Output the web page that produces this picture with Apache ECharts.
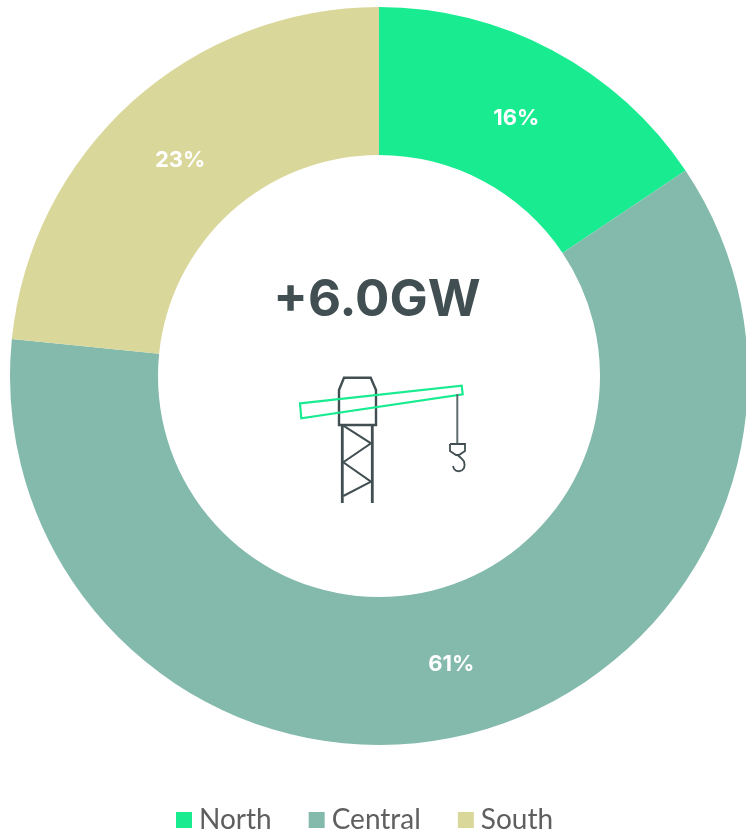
<!DOCTYPE html>
<html lang="en">
<head>
    <meta charset="UTF-8">
    <title>Capacity by region</title>
    <style>
        html, body { margin: 0; padding: 0; background: #fff; overflow: hidden; }
    </style>
</head>
<body>
<div id="container" style="width: 746px;height:833px;"></div>

<script src="https://cdn.jsdelivr.net/npm/echarts@6/dist/echarts.min.js"></script>
<script type="text/javascript">

var regions = ['North', 'Central', 'South'];
// shares as measured from the slice angles, labels round them
var shares = [15.6, 61.0, 23.4];
var colors = ['#19eb91', '#83baac', '#dad79b'];
var centerText = '+6.0GW';

// small nudges so the labels sit where the original has them
var labelNudge = [[-3, 5], [0, -1], [1, 5]];

var dark = '#414f52';
var green = '#19eb91';

var pieData = [];
for (var i = 0; i < regions.length; i++) {
  pieData.push({
    name: regions[i],
    value: shares[i],
    itemStyle: {color: colors[i]},
    label: {offset: labelNudge[i]}
  });
}

// crane icon, drawn by hand
function line(points, color, width) {
  return {
    type: 'polyline',
    silent: true,
    shape: {points: points},
    style: {fill: 'none', stroke: color, lineWidth: width}
  };
}

var crane = [
  // cab
  {
    type: 'polygon',
    silent: true,
    shape: {points: [[339, 425], [339, 390], [344, 377.7], [370.7, 377.7], [376, 390], [376, 425]]},
    style: {fill: 'none', stroke: dark, lineWidth: 2.4}
  },
  // tower
  line([[342.3, 425], [342.3, 503]], dark, 2.8),
  line([[372.3, 425], [372.3, 503]], dark, 2.8),
  line([[343.3, 425.7], [371, 443.3], [343.3, 462.3], [371, 481.7], [343.3, 496]], dark, 2),
  // boom
  {
    type: 'polygon',
    silent: true,
    shape: {points: [[300, 403.3], [461.7, 385.7], [462.7, 394.3], [301.3, 418.3]]},
    style: {fill: 'none', stroke: green, lineWidth: 2.2}
  },
  // cable and hook
  line([[457.3, 394], [457.3, 444]], '#5e6b6d', 2),
  line([[450, 444], [465, 444], [465, 451], [459, 455], [456, 455], [450, 451], [450, 444]], dark, 1.8),
  line([[457.5, 455], [461, 458], [464, 461.5], [464.6, 465], [464, 468], [462, 470.3], [459, 471.3], [456, 470.6], [454, 468.8], [453, 466]], dark, 1.8)
];

var dom = document.getElementById("container");
var myChart = echarts.init(dom);
var option = {
    animation: false,
    title: {
        text: centerText,
        left: 372,
        top: 270,
        textAlign: 'center',
        textStyle: {
            fontFamily: 'Inter',
            fontSize: 51,
            fontWeight: 700,
            color: dark
        }
    },
    legend: {
        data: regions,
        left: 171,
        top: 801,
        icon: 'rect',
        itemWidth: 16,
        itemHeight: 16,
        itemGap: 37,
        selectedMode: false,
        textStyle: {
            fontFamily: 'Lato',
            fontSize: 28,
            color: '#5f5f5f',
            padding: [0, 0, 0, 2]
        }
    },
    series: [
        {
            type: 'pie',
            center: [379, 376],
            radius: [221, 369],
            startAngle: 90,
            clockwise: true,
            silent: true,
            data: pieData,
            label: {
                position: 'inside',
                formatter: function (p) {
                    return Math.round(p.value) + '%';
                },
                fontFamily: 'Inter',
                fontSize: 22,
                fontWeight: 700,
                color: '#fff'
            },
            labelLine: {show: false}
        }
    ],
    graphic: crane
};

myChart.setOption(option);
</script>
</body>
</html>
